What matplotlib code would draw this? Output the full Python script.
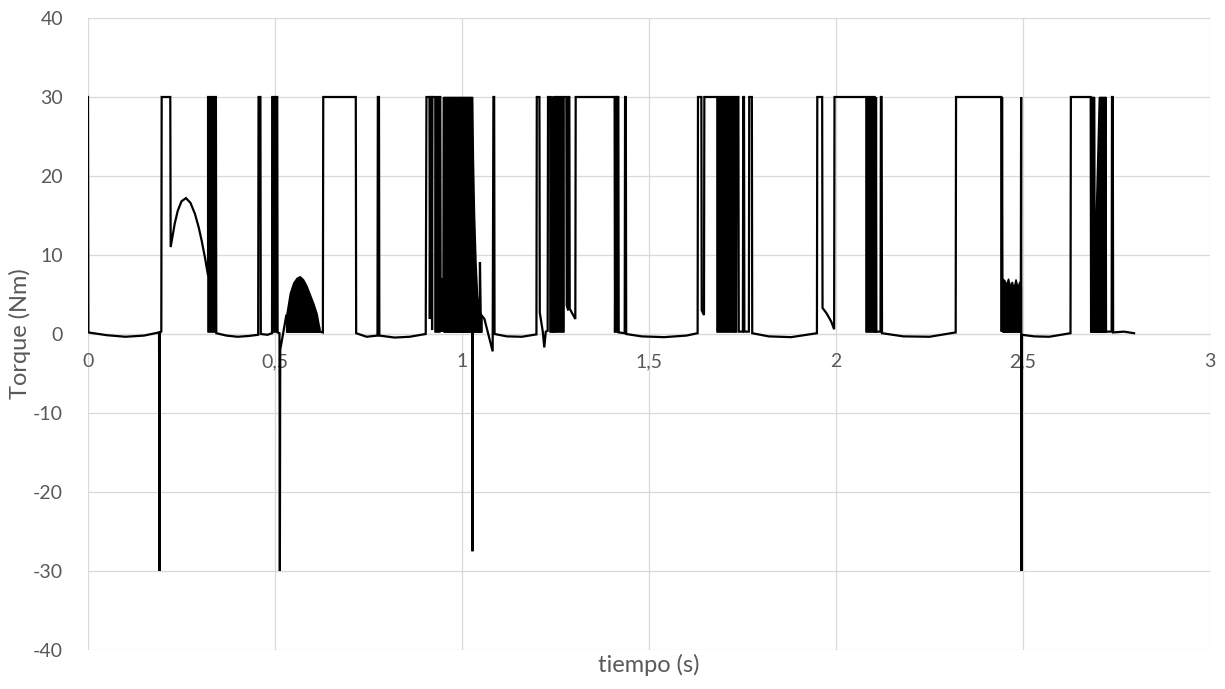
import numpy as np
import matplotlib
matplotlib.use("Agg")
import matplotlib.pyplot as plt
from matplotlib.ticker import FuncFormatter

plt.rcParams['font.family'] = ['Lato', 'DejaVu Sans']
plt.rcParams['axes.unicode_minus'] = False

# Motor torque trace: time (s) and torque (Nm)
time_s = [
    0.000, 0.001, 0.050, 0.100, 0.150, 0.190, 0.191, 0.192, 0.196, 0.197,
    0.220, 0.221, 0.226, 0.232, 0.240, 0.250, 0.262, 0.274, 0.286, 0.296,
    0.304, 0.313, 0.321, 0.321, 0.342, 0.343,
    0.370, 0.400, 0.430, 0.455, 0.456, 0.461, 0.462, 0.480, 0.492, 0.493,
    0.506, 0.507, 0.512, 0.513, 0.514, 0.530, 0.618, 0.620, 0.628, 0.629,
    0.716, 0.717,
    0.745, 0.774, 0.775, 0.778, 0.779, 0.820, 0.860, 0.903, 0.905, 0.913,
    0.914, 0.916, 0.919, 0.920, 0.921, 0.927, 0.942, 0.943, 0.945, 0.946,
    0.950, 0.951, 1.027, 1.028, 1.029, 1.047, 1.048, 1.050, 1.060, 1.082,
    1.084, 1.086, 1.087,
    1.120, 1.160, 1.199, 1.200, 1.207, 1.208, 1.212, 1.216, 1.220, 1.224,
    1.229, 1.230, 1.236, 1.242, 1.247, 1.247, 1.274, 1.279, 1.280, 1.284,
    1.285, 1.287, 1.288, 1.303, 1.304, 1.408, 1.409, 1.411, 1.412, 1.414,
    1.415, 1.416, 1.418, 1.419, 1.435, 1.436, 1.438, 1.439,
    1.480, 1.540, 1.600, 1.630, 1.631, 1.640, 1.641, 1.647, 1.648, 1.681,
    1.729, 1.730, 1.733, 1.734, 1.739, 1.740, 1.751, 1.752, 1.754, 1.755,
    1.767, 1.768, 1.775, 1.776,
    1.820, 1.880, 1.949, 1.950, 1.963, 1.964, 1.975, 1.987, 1.995, 1.996,
    2.080, 2.103, 2.104, 2.106, 2.107, 2.108, 2.119, 2.120, 2.122, 2.123,
    2.180, 2.250, 2.320, 2.321, 2.442, 2.443, 2.444, 2.445, 2.494, 2.495,
    2.496, 2.497, 2.530, 2.570, 2.627, 2.628, 2.681, 2.682, 2.720, 2.721,
    2.722, 2.737, 2.738, 2.740, 2.741, 2.770, 2.797,
]
torque_nm = [
    30.0, 0.2, -0.15, -0.35, -0.2, 0.2, -30.0, 0.2, 0.3, 30.0,
    30.0, 11.0, 12.4, 14.0, 15.6, 16.8, 17.2, 16.6, 15.2, 13.5,
    11.8, 9.6, 7.4, 30.0, 30.0, 0.1,
    -0.2, -0.35, -0.25, -0.1, 30.0, 30.0, 0.0, -0.1, 0.1, 30.0,
    30.0, 0.2, 0.1, -30.0, -2.0, 2.3, 0.8, 0.3, 0.2, 30.0,
    30.0, 0.1,
    -0.35, -0.2, 30.0, 30.0, -0.2, -0.45, -0.35, 0.0, 30.0, 30.0,
    1.9, 30.0, 30.0, 0.5, 30.0, 30.0, 30.0, 0.3, 7.0, 0.4,
    0.4, 30.0, 0.3, -27.5, 0.3, 0.3, 9.1, 2.5, 1.9, -2.2,
    30.0, 30.0, 0.0,
    -0.3, -0.35, -0.05, 30.0, 30.0, 2.7, 1.5, 0.3, -1.7, 0.3,
    0.4, 30.0, 30.0, 0.3, 0.3, 30.0, 30.0, 30.0, 3.6, 3.0,
    30.0, 30.0, 3.2, 1.9, 30.0, 30.0, 0.2, 23.0, 30.0, 30.0,
    0.2, 30.0, 30.0, 0.2, 0.1, 30.0, 30.0, 0.0,
    -0.3, -0.4, -0.2, 0.1, 30.0, 30.0, 3.0, 2.4, 30.0, 30.0,
    30.0, 0.3, 0.3, 30.0, 30.0, 0.3, 0.3, 30.0, 30.0, 0.3,
    0.3, 30.0, 30.0, 0.1,
    -0.3, -0.4, 0.1, 30.0, 30.0, 3.3, 2.6, 1.6, 0.6, 30.0,
    30.0, 30.0, 0.3, 0.3, 30.0, 0.3, 0.3, 30.0, 30.0, 0.1,
    -0.3, -0.35, 0.2, 30.0, 30.0, 0.3, 30.0, 7.0, 0.3, 30.0,
    -30.0, -0.1, -0.3, -0.35, 0.1, 30.0, 30.0, 0.3, 0.3, 30.0,
    0.3, 0.3, 30.0, 30.0, 0.2, 0.3, 0.1,
]

# Chattering intervals: upper envelope of the fast switching (NaN separates intervals)
burst_t = [
    0.321, 0.342, np.nan,
    0.493, 0.506, np.nan,
    0.530, 0.540, 0.549, 0.558, 0.566, 0.575, 0.584, 0.593, 0.602, 0.611, 0.618, np.nan,
    0.927, 0.942, np.nan,
    0.951, 1.027, 1.029, 1.032, 1.036, 1.040, 1.046, 1.052, np.nan,
    1.236, 1.242, np.nan,
    1.247, 1.274, np.nan,
    1.681, 1.729, np.nan,
    2.080, 2.103, np.nan,
    2.445, 2.450, 2.455, 2.460, 2.465, 2.470, 2.475, 2.480, 2.485, 2.490, 2.494, np.nan,
    2.681, 2.690, 2.691, 2.703, 2.721,
]
burst_hi = [
    30.0, 30.0, np.nan,
    30.0, 30.0, np.nan,
    2.3, 5.2, 6.5, 7.1, 7.3, 6.9, 6.1, 5.0, 3.9, 2.6, 0.8, np.nan,
    30.0, 30.0, np.nan,
    30.0, 30.0, 22.0, 15.0, 9.0, 5.0, 3.0, 2.0, np.nan,
    30.0, 30.0, np.nan,
    30.0, 30.0, np.nan,
    30.0, 30.0, np.nan,
    30.0, 30.0, np.nan,
    7.0, 6.8, 6.2, 7.0, 6.0, 6.6, 5.8, 6.9, 5.9, 6.6, 6.0, np.nan,
    30.0, 30.0, 8.0, 30.0, 30.0,
]
burst_floor_nm = 0.3

x_ticks = [0, 0.5, 1, 1.5, 2, 2.5, 3]
y_ticks = [-40, -30, -20, -10, 0, 10, 20, 30, 40]

text_color = '#595959'
grid_color = '#D9D9D9'

fig = plt.figure(figsize=(12.25, 6.89), dpi=100)
ax = fig.add_axes([88 / 1225, 1 - 650 / 689, (1210 - 88) / 1225, (650 - 18) / 689])

ax.plot(time_s, torque_nm, color='black', lw=1.6, zorder=3, solid_joinstyle='miter')

bt = np.array(burst_t, dtype=float)
bh = np.array(burst_hi, dtype=float)
cuts = np.where(np.isnan(bt))[0]
for seg_t, seg_h in zip(np.split(bt, cuts), np.split(bh, cuts)):
    keep = ~np.isnan(seg_t)
    if keep.sum() < 2:
        continue
    ax.fill_between(seg_t[keep], burst_floor_nm, seg_h[keep],
                    facecolor='black', edgecolor='black', lw=1.2, zorder=3)

ax.set_xlim(0, 3)
ax.set_ylim(-40, 40)
ax.set_xticks(x_ticks)
ax.set_yticks(y_ticks)
ax.xaxis.set_major_formatter(FuncFormatter(lambda v, _: f"{v:g}".replace('.', ',')))

ax.grid(True, color=grid_color, lw=0.9, zorder=0)
ax.set_axisbelow(True)
for side in ('top', 'right', 'left'):
    ax.spines[side].set_visible(False)
ax.spines['bottom'].set_position(('data', 0))
ax.spines['bottom'].set_color(grid_color)
ax.spines['bottom'].set_linewidth(0.9)

ax.tick_params(axis='both', length=0, labelsize=14, labelcolor=text_color)
ax.tick_params(axis='x', pad=14)
ax.tick_params(axis='y', pad=18)

ax.set_xlabel('tiempo (s)', fontsize=17, color=text_color)
ax.xaxis.set_label_coords(0.5, -0.006)
ax.set_ylabel('Torque (Nm)', fontsize=17, color=text_color)
ax.yaxis.set_label_coords(-0.051, 0.5)

fig.savefig('out.png', dpi=100)
